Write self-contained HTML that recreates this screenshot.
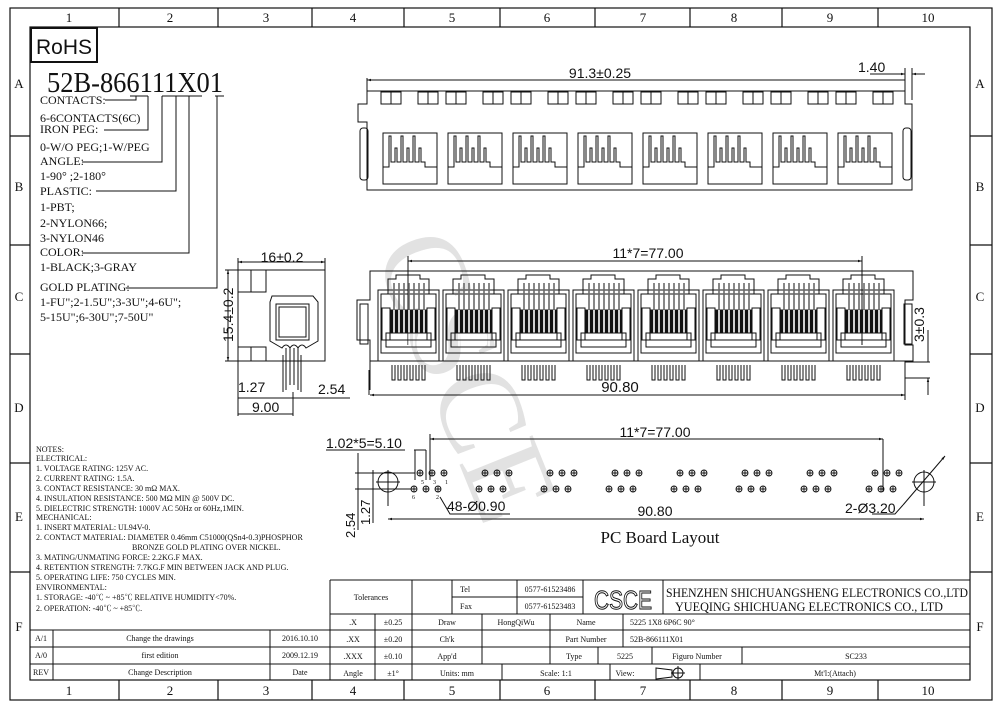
<!DOCTYPE html>
<html><head><meta charset="utf-8"><style>
html,body{margin:0;padding:0;background:#fff;}
svg{display:block;}
text{font-family:"Liberation Serif","Noto Serif CJK SC",serif;fill:#111;}
.d{font-family:"Liberation Sans Narrow","Liberation Sans",sans-serif;}
</style></head><body>
<svg width="1000" height="710" viewBox="0 0 1000 710" xmlns="http://www.w3.org/2000/svg">
<defs>
<marker id="ar" viewBox="0 0 10 10" refX="10" refY="5" markerWidth="8" markerHeight="4" orient="auto-start-reverse"><path d="M0,2L10,5L0,8z" fill="#111"/></marker>
<g id="fp" fill="none" stroke="#111" stroke-width="1">
<rect x="-30" y="290" width="61" height="71"/>
<rect x="-27" y="294" width="55" height="59"/>
<path d="M-20,294V279H-12V275H12V279H21V294"/>
<rect x="-18" y="310" width="37" height="23" fill="#111"/>
<path d="M-14,283V347M-9,283V347M-4,283V347M1,283V347M6,283V347M11,283V347M16,283V347" stroke="#fff" stroke-width="1.6"/>
<path d="M-14,283V310M-9,283V310M-4,283V310M1,283V310M6,283V310M11,283V310M16,283V310"/>
<rect x="-22" y="333" width="45" height="14"/>
<path d="M-27,340H28"/>
<rect x="-26" y="308" width="8" height="32"/><rect x="19" y="308" width="8" height="32"/>
<path d="M-16,365V380H-13V365M-10,365V380H-7V365M-4,365V380H-1V365M2,365V380H5V365M8,365V380H11V365M14,365V380H17V365"/>
</g>
<g id="tp" fill="none" stroke="#111" stroke-width="1">
<rect x="-28" y="92" width="10" height="12"/><rect x="-18" y="92" width="10" height="12"/>
<rect x="9" y="92" width="10" height="12"/><rect x="19" y="92" width="10" height="12"/>
<rect x="-26" y="133" width="54" height="51"/>
<path d="M-26,167H-20V136H-18V162H-14V148H-12V162H-8V136H-6V162H-2V148H0V162H4V136H6V162H10V148H12V162H16V167H28"/>
</g>
<g id="hp" fill="none" stroke="#111" stroke-width="0.9">
<circle cx="0" cy="473" r="3"/><path d="M-3,473h6M0,470v6"/>
<circle cx="12" cy="473" r="3"/><path d="M9,473h6M12,470v6"/>
<circle cx="24" cy="473" r="3"/><path d="M21,473h6M24,470v6"/>
<circle cx="-6" cy="489" r="3"/><path d="M-9,489h6M-6,486v6"/>
<circle cx="6" cy="489" r="3"/><path d="M3,489h6M6,486v6"/>
<circle cx="18" cy="489" r="3"/><path d="M15,489h6M18,486v6"/>
</g>
</defs>

<!-- watermark -->
<text x="0" y="0" transform="translate(455,380) rotate(68)" font-size="120" style="fill:#e2e2e2;font-family:'Liberation Serif',serif" text-anchor="middle" dominant-baseline="middle">CSCE</text>

<!-- frame -->
<g fill="none" stroke="#111" stroke-width="1.2">
<rect x="10" y="8" width="982" height="692"/>
<rect x="30" y="27" width="940" height="653"/>
<path d="M119,8V27M218,8V27M312,8V27M404,8V27M500,8V27M595,8V27M690,8V27M782,8V27M878,8V27"/>
<path d="M119,680V700M218,680V700M312,680V700M404,680V700M500,680V700M595,680V700M690,680V700M782,680V700M878,680V700"/>
<path d="M10,136H30M10,245H30M10,354H30M10,463H30M10,572H30"/>
<path d="M970,136H992M970,245H992M970,354H992M970,463H992M970,572H992"/>
</g>
<g font-size="13" text-anchor="middle">
<text x="69" y="22">1</text><text x="170" y="22">2</text><text x="266" y="22">3</text><text x="353" y="22">4</text><text x="452" y="22">5</text><text x="547" y="22">6</text><text x="643" y="22">7</text><text x="734" y="22">8</text><text x="830" y="22">9</text><text x="928" y="22">10</text>
<text x="69" y="695">1</text><text x="170" y="695">2</text><text x="266" y="695">3</text><text x="353" y="695">4</text><text x="452" y="695">5</text><text x="547" y="695">6</text><text x="643" y="695">7</text><text x="734" y="695">8</text><text x="830" y="695">9</text><text x="928" y="695">10</text>
<text x="19" y="88">A</text><text x="19" y="191">B</text><text x="19" y="301">C</text><text x="19" y="412">D</text><text x="19" y="521">E</text><text x="19" y="631">F</text>
<text x="980" y="88">A</text><text x="980" y="191">B</text><text x="980" y="301">C</text><text x="980" y="412">D</text><text x="980" y="521">E</text><text x="980" y="631">F</text>
</g>

<!-- RoHS & code -->
<rect x="31" y="28" width="66" height="34" fill="none" stroke="#111" stroke-width="2"/>
<text x="36" y="54" font-size="21" textLength="56" lengthAdjust="spacingAndGlyphs" style="font-family:'Liberation Sans',sans-serif">RoHS</text>
<text x="47" y="92" font-size="28" textLength="176" lengthAdjust="spacingAndGlyphs">52B-866111X01</text>
<g fill="none" stroke="#111" stroke-width="1">
<path d="M130,96H148M162,96H175M175,96H188M188,96H202M215,96H224"/>
<path d="M105,100H136V96M104,130H148V96M82,162H162V96M96,191H176V96M82,253H189V96M126,288H217V96"/>
</g>
<g font-size="12">
<text x="40" y="104">CONTACTS:</text>
<text x="40" y="122">6-6CONTACTS(6C)</text>
<text x="40" y="133">IRON PEG:</text>
<text x="40" y="151">0-W/O PEG;1-W/PEG</text>
<text x="40" y="165">ANGLE:</text>
<text x="40" y="180">1-90° ;2-180°</text>
<text x="40" y="195">PLASTIC:</text>
<text x="40" y="211">1-PBT;</text>
<text x="40" y="227">2-NYLON66;</text>
<text x="40" y="242">3-NYLON46</text>
<text x="40" y="256">COLOR:</text>
<text x="40" y="271">1-BLACK;3-GRAY</text>
<text x="40" y="291">GOLD PLATING:</text>
<text x="40" y="306">1-FU";2-1.5U";3-3U";4-6U";</text>
<text x="40" y="321">5-15U";6-30U";7-50U"</text>
</g>

<!-- top view -->
<g fill="none" stroke="#111" stroke-width="1">
<path d="M367,80H905" marker-start="url(#ar)"/>
<path d="M367,78V92M905,68V92M912,68V100"/>
<path d="M870,74H905" marker-end="url(#ar)"/><path d="M925,74H912" marker-end="url(#ar)"/>
<path d="M367,91H905V104H912V190H367V122H358V104H367Z"/>
<path d="M367,122V190"/>
<rect x="360" y="128" width="8" height="52" rx="3"/>
<rect x="903" y="128" width="8" height="52" rx="3"/>
</g>
<use href="#tp" x="409"/><use href="#tp" x="474"/><use href="#tp" x="539"/><use href="#tp" x="604"/><use href="#tp" x="669"/><use href="#tp" x="734"/><use href="#tp" x="799"/><use href="#tp" x="864"/>
<text class="d" x="600" y="78" font-size="14" text-anchor="middle">91.3±0.25</text>
<text class="d" x="858" y="72" font-size="14">1.40</text>

<!-- front view -->
<g fill="none" stroke="#111" stroke-width="1">
<path d="M370,271H913V300H905V345H913V361H370V340H357V300H370Z"/>
<rect x="360" y="304" width="8" height="40"/>
<rect x="904" y="304" width="8" height="40"/>
<path d="M370,361V390M905,361V400M369,370V395"/>
<path d="M408,261H862" marker-start="url(#ar)" marker-end="url(#ar)"/>
<path d="M408,256V345M862,256V345"/>
<path d="M370,395H905" marker-start="url(#ar)" marker-end="url(#ar)"/>
<path d="M905,362H930M905,378H930M928,330V362" /><path d="M928,395V378" marker-end="url(#ar)"/>
</g>
<use href="#fp" x="408"/><use href="#fp" x="473"/><use href="#fp" x="538"/><use href="#fp" x="603"/><use href="#fp" x="668"/><use href="#fp" x="733"/><use href="#fp" x="798"/><use href="#fp" x="863"/>
<text class="d" x="648" y="258" font-size="14" text-anchor="middle">11*7=77.00</text>
<text class="d" x="620" y="392" font-size="15" text-anchor="middle">90.80</text>
<text class="d" font-size="14" transform="translate(924,342) rotate(-90)">3±0.3</text>

<!-- side view -->
<g fill="none" stroke="#111" stroke-width="1">
<rect x="238" y="270" width="87" height="91"/>
<rect x="238" y="270" width="13" height="22"/><rect x="251" y="270" width="15" height="22"/>
<rect x="238" y="347" width="13" height="14"/><rect x="251" y="347" width="15" height="14"/>
<path d="M272,296H313L318,302V341L306,348Q302,342 298,348Q294,342 290,348Q286,342 282,348L270,341V302Z"/>
<rect x="276" y="304" width="33" height="36"/>
<rect x="279" y="307" width="27" height="30"/>
<path d="M286,348V390M290,348V385M294,348V385M298,348V390M283,392V355M301,392V355"/>
<path d="M238,262H325" marker-start="url(#ar)" marker-end="url(#ar)"/>
<path d="M238,258V270M325,258V270"/>
<path d="M228,270V361" marker-start="url(#ar)" marker-end="url(#ar)"/>
<path d="M225,270H238M225,361H238"/>
<path d="M238,361V416M293,392V416M238,398H350M238,414H293"/>
</g>
<text class="d" x="282" y="262" font-size="14" text-anchor="middle">16±0.2</text>
<text class="d" font-size="14" transform="translate(233,342) rotate(-90)">15.4±0.2</text>
<text class="d" x="238" y="392" font-size="14">1.27</text>
<text class="d" x="318" y="394" font-size="14">2.54</text>
<text class="d" x="252" y="412" font-size="14">9.00</text>

<!-- PCB layout -->
<g fill="none" stroke="#111" stroke-width="1">
<path d="M430,439H883" marker-start="url(#ar)" marker-end="url(#ar)"/>
<path d="M430,434V480M883,439V492"/>
<path d="M326,450H405M415,450V480M426,450V480M414,450H426"/>
<circle cx="388" cy="482" r="10"/><path d="M376,482H400M388,470V506"/>
<circle cx="924" cy="482" r="10"/><path d="M912,482H936M924,470V506"/>
<path d="M945,456L903,505" marker-start="url(#ar)"/><path d="M903,505L895,514H872"/>
<path d="M440,497L450,514H510"/>
<path d="M388,519H924" marker-start="url(#ar)" marker-end="url(#ar)"/>
<path d="M355,473H415M355,489H412M358,453V530M373,470V523"/>
</g>
<use href="#hp" x="420"/><use href="#hp" x="485"/><use href="#hp" x="550"/><use href="#hp" x="615"/><use href="#hp" x="680"/><use href="#hp" x="745"/><use href="#hp" x="810"/><use href="#hp" x="875"/>
<g font-size="6"><text x="421" y="484">5</text><text x="433" y="484">3</text><text x="445" y="484">1</text><text x="412" y="499">6</text><text x="436" y="499">2</text></g>
<text class="d" x="655" y="437" font-size="14" text-anchor="middle">11*7=77.00</text>
<text class="d" x="326" y="448" font-size="14">1.02*5=5.10</text>
<text class="d" x="447" y="511" font-size="14">48-Ø0.90</text>
<text class="d" x="655" y="516" font-size="14" text-anchor="middle">90.80</text>
<text class="d" x="845" y="513" font-size="14">2-Ø3.20</text>
<text class="d" font-size="13" transform="translate(355,538) rotate(-90)">2.54</text>
<text class="d" font-size="13" transform="translate(370,525) rotate(-90)">1.27</text>
<text x="660" y="543" font-size="17" text-anchor="middle">PC Board Layout</text>

<!-- notes -->
<g font-size="8">
<text x="36" y="452">NOTES:</text>
<text x="36" y="461">ELECTRICAL:</text>
<text x="36" y="471">1. VOLTAGE RATING: 125V AC.</text>
<text x="36" y="481">2. CURRENT RATING: 1.5A.</text>
<text x="36" y="491">3. CONTACT RESISTANCE: 30 mΩ MAX.</text>
<text x="36" y="501">4. INSULATION RESISTANCE: 500 MΩ MIN @ 500V DC.</text>
<text x="36" y="511">5. DIELECTRIC STRENGTH: 1000V AC 50Hz or 60Hz,1MIN.</text>
<text x="36" y="520">MECHANICAL:</text>
<text x="36" y="530">1. INSERT MATERIAL: UL94V-0.</text>
<text x="36" y="540">2. CONTACT MATERIAL: DIAMETER 0.46mm C51000(QSn4-0.3)PHOSPHOR</text>
<text x="132" y="550">BRONZE GOLD PLATING OVER NICKEL.</text>
<text x="36" y="560">3. MATING/UNMATING FORCE: 2.2KG.F MAX.</text>
<text x="36" y="570">4. RETENTION STRENGTH: 7.7KG.F MIN BETWEEN JACK AND PLUG.</text>
<text x="36" y="580">5. OPERATING LIFE: 750 CYCLES MIN.</text>
<text x="36" y="590">ENVIRONMENTAL:</text>
<text x="36" y="600">1. STORAGE: -40℃ ~ +85℃ RELATIVE HUMIDITY&lt;70%.</text>
<text x="36" y="611">2. OPERATION: -40℃ ~ +85℃.</text>
</g>

<!-- revision block -->
<g fill="none" stroke="#111" stroke-width="1">
<path d="M30,630H330M30,647H330M30,664H330M53,630V680M270,630V680"/>
<path d="M330,580H970M330,580V680M330,614H970M330,630H970M330,647H970M330,664H970"/>
<path d="M412,580V680M452,580V614M452,597H583M517,580V614M583,580V614M663,580V614"/>
<path d="M375,614V680M482,614V664M550,614V664M623,614V647M550,647V664M598,647V664M652,647V664M742,647V664"/>
<path d="M502,664V680M610,664V680M700,664V680"/>
</g>
<g font-size="8" text-anchor="middle">
<text x="41" y="641">A/1</text><text x="160" y="641">Change the drawings</text><text x="300" y="641">2016.10.10</text>
<text x="41" y="658">A/0</text><text x="160" y="658">first edition</text><text x="300" y="658">2009.12.19</text>
<text x="41" y="675">REV</text><text x="160" y="675">Change Description</text><text x="300" y="675">Date</text>
<text x="371" y="600">Tolerances</text>
<text x="465" y="592">Tel</text><text x="466" y="609">Fax</text>
<text x="550" y="592">0577-61523486</text><text x="550" y="609">0577-61523483</text>
<text x="353" y="625">.X</text><text x="393" y="625">±0.25</text><text x="447" y="625">Draw</text><text x="516" y="625">HongQiWu</text><text x="586" y="625">Name</text>
<text x="353" y="642">.XX</text><text x="393" y="642">±0.20</text><text x="447" y="642">Ch'k</text><text x="586" y="642">Part Number</text>
<text x="353" y="659">.XXX</text><text x="393" y="659">±0.10</text><text x="447" y="659">App'd</text><text x="574" y="659">Type</text><text x="625" y="659">5225</text><text x="697" y="659">Figuro Number</text><text x="856" y="659">SC233</text>
<text x="353" y="676">Angle</text><text x="393" y="676">±1°</text><text x="457" y="676">Units: mm</text><text x="556" y="676">Scale: 1:1</text><text x="625" y="676">View:</text><text x="835" y="676">Mt'l:(Attach)</text>
</g>
<g font-size="8"><text x="630" y="625">5225 1X8 6P6C 90°</text><text x="630" y="642">52B-866111X01</text></g>
<g fill="none" stroke="#111" stroke-width="1"><path d="M656,668L672,670V677L656,679Z"/><circle cx="678" cy="673" r="5"/><path d="M671,673H685M678,666V680"/></g>
<text x="623" y="609" font-size="26" text-anchor="middle" textLength="58" lengthAdjust="spacingAndGlyphs" style="fill:#fff;stroke:#111;stroke-width:1;font-family:'Liberation Sans',sans-serif">CSCE</text>
<text x="666" y="597" font-size="13" textLength="302" lengthAdjust="spacingAndGlyphs">SHENZHEN SHICHUANGSHENG ELECTRONICS CO.,LTD</text>
<text x="675" y="611" font-size="13" textLength="268" lengthAdjust="spacingAndGlyphs">YUEQING SHICHUANG ELECTRONICS CO., LTD</text>
</svg>
</body></html>
